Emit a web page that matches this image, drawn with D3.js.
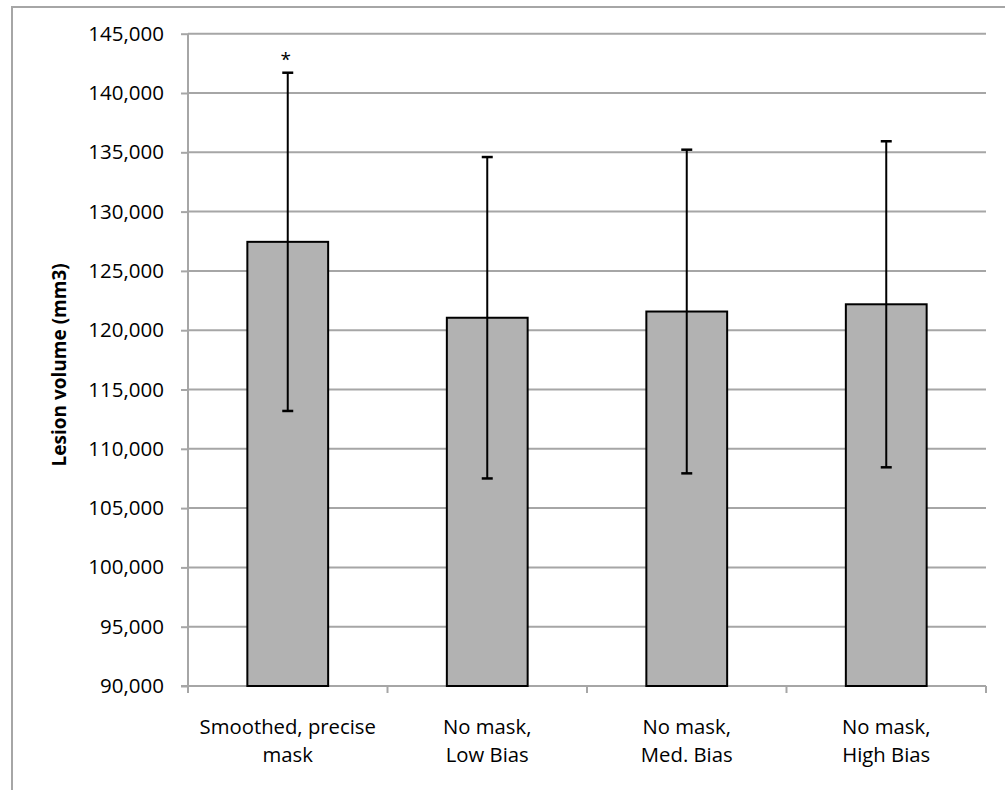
<!DOCTYPE html>
<html>
<head>
<meta charset="utf-8">
<script src="https://cdn.jsdelivr.net/npm/d3@7"></script>
<style>
  html, body { margin: 0; padding: 0; background: #fff; }
  svg { display: block; }
  text { font-family: "Open Sans", "DejaVu Sans", sans-serif; fill: #000; }
</style>
</head>
<body>
<svg id="chart" width="1005" height="790"></svg>
<script>
// Mean lesion volume per processing method, with error bar half-widths (mm3)
const categories = ["Smoothed, precise mask", "No mask, Low Bias", "No mask, Med. Bias", "No mask, High Bias"];
const categoryLines = [["Smoothed, precise", "mask"], ["No mask,", "Low Bias"], ["No mask,", "Med. Bias"], ["No mask,", "High Bias"]];
const means = [127450, 121050, 121575, 122185];
const errors = [14260, 13550, 13645, 13745];
const significant = [true, false, false, false];
const yTicks = [90000, 95000, 100000, 105000, 110000, 115000, 120000, 125000, 130000, 135000, 140000, 145000];
const yLabel = "Lesion volume (mm3)";

const svg = d3.select("#chart");
const plotLeft = 188, plotRight = 986, plotTop = 33.7, plotBottom = 686;

// Outer chart frame
svg.append("rect")
  .attr("x", 12).attr("y", 7).attr("width", 1020).attr("height", 820)
  .attr("fill", "none").attr("stroke", "#a6a6a6").attr("stroke-width", 2);

const y = d3.scaleLinear().domain([90000, 145000]).range([plotBottom, plotTop]);
const x = d3.scaleBand().domain(categories).range([plotLeft, plotRight]).padding(0);
const barFrac = 0.405;

// Horizontal gridlines
svg.append("g").selectAll("line").data(yTicks.slice(1)).join("line")
  .attr("x1", plotLeft).attr("x2", plotRight)
  .attr("y1", d => y(d)).attr("y2", d => y(d))
  .attr("stroke", "#a6a6a6").attr("stroke-width", 2);

// Y axis
const yAxis = svg.append("g").attr("transform", `translate(${plotLeft},0)`)
  .call(d3.axisLeft(y).tickValues(yTicks).tickSize(7).tickPadding(17).tickFormat(d3.format(",")));
yAxis.select(".domain").attr("stroke", "#a6a6a6").attr("stroke-width", 2).attr("d", `M0,${plotTop}V${plotBottom + 7}`);
yAxis.selectAll(".tick line").attr("stroke", "#a6a6a6").attr("stroke-width", 2);
yAxis.selectAll(".tick text").attr("font-family", "'Open Sans', sans-serif").attr("font-size", 20.5).attr("fill", "#000");

// X axis baseline with boundary ticks
const xAxis = svg.append("g");
xAxis.append("line").attr("x1", plotLeft - 7).attr("x2", plotRight).attr("y1", plotBottom).attr("y2", plotBottom)
  .attr("stroke", "#a6a6a6").attr("stroke-width", 2);
const bounds = categories.map(c => x(c)).concat([x(categories[categories.length - 1]) + x.bandwidth()]);
xAxis.selectAll("line.tk").data(bounds).join("line").attr("class", "tk")
  .attr("x1", d => d).attr("x2", d => d).attr("y1", plotBottom).attr("y2", plotBottom + 7)
  .attr("stroke", "#a6a6a6").attr("stroke-width", 2);

// Bars
const bw = x.bandwidth() * barFrac;
svg.append("g").selectAll("rect").data(categories).join("rect")
  .attr("x", c => x(c) + (x.bandwidth() - bw) / 2)
  .attr("y", (c, i) => y(means[i]))
  .attr("width", bw)
  .attr("height", (c, i) => y(90000) - y(means[i]))
  .attr("fill", "#b2b2b2").attr("stroke", "#000").attr("stroke-width", 2);

// Error bars
const eb = svg.append("g").attr("stroke", "#000").attr("stroke-width", 2);
categories.forEach((c, i) => {
  const cx = x(c) + x.bandwidth() / 2;
  const hi = y(means[i] + errors[i]), lo = y(means[i] - errors[i]);
  eb.append("line").attr("x1", cx).attr("x2", cx).attr("y1", hi).attr("y2", lo);
  eb.append("line").attr("x1", cx - 5.5).attr("x2", cx + 5.5).attr("y1", hi).attr("y2", hi).attr("stroke-width", 2.5);
  eb.append("line").attr("x1", cx - 5.5).attr("x2", cx + 5.5).attr("y1", lo).attr("y2", lo).attr("stroke-width", 2.5);
  if (significant[i]) {
    svg.append("text").attr("x", cx - 2).attr("y", hi - 7)
      .attr("text-anchor", "middle").attr("font-size", 19).text("*");
  }
});

// Category labels (two lines each)
const lab = svg.append("g");
categories.forEach((c, i) => {
  const cx = x(c) + x.bandwidth() / 2;
  const t = lab.append("text").attr("text-anchor", "middle").attr("font-size", 20.3);
  categoryLines[i].forEach((ln, j) => {
    t.append("tspan").attr("x", cx).attr("y", 734 + j * 28).text(ln);
  });
});

// Y axis title
svg.append("text")
  .attr("transform", `translate(66,${(plotTop + plotBottom) / 2 + 5}) rotate(-90)`)
  .attr("text-anchor", "middle").attr("font-size", 19).attr("font-weight", "bold")
  .text(yLabel);
</script>
</body>
</html>
